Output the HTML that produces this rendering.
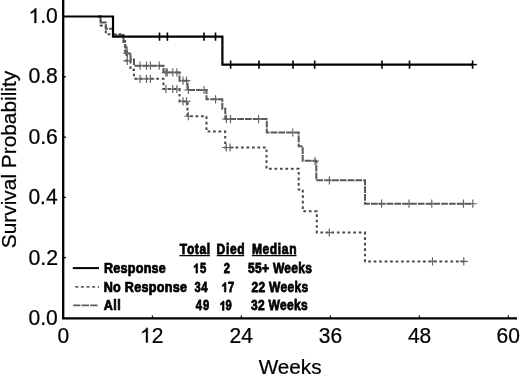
<!DOCTYPE html>
<html><head><meta charset="utf-8"><style>
html,body{margin:0;padding:0;background:#fff;width:520px;height:376px;overflow:hidden}
svg{display:block;will-change:transform}
text{font-family:"Liberation Sans",sans-serif;fill:#000}
.b{stroke:#000;stroke-width:0.75px}
text{stroke:#000;stroke-width:0.25px}
</style></head><body>
<svg width="520" height="376" viewBox="0 0 520 376">
<path d="M63.2 0 V319.5 M62 318.3 H517" stroke="#000" stroke-width="2.3" fill="none"/>
<path d=" M63 257.7 H66 M63 197.4 H66 M63 137.1 H66 M63 76.8 H66 M63 16.5 H66 M152.4 318 V315.5 M241.4 318 V315.5 M330.4 318 V315.5 M419.4 318 V315.5 M508.4 318 V315.5" stroke="#000" stroke-width="1.2" fill="none"/>
<path d="M98 16.5 H100.6 V25.4 H105.8 V34.2 H123.5 V43.1 H125.2 V52 H126.6 V60.8 H130.5 V69.7 H134 V78.8 H163.5 V89 H179.5 V101.4 H187.5 V116.2 H206.5 V131.6 H225.2 V147.5 H266.5 V168.8 H298.7 V189.6 H302.8 V211.2 H316.8 V232.5 H365 V261.4 H463.8" stroke="#474747" stroke-width="2" fill="none" stroke-dasharray="2.7 2.78"/>
<path d="M98 16.5 H100.6 V22.6 H105.8 V28.8 H113 V35 H123.5 V41.1 H125.2 V47.3 H126.6 V53.4 H130.5 V59.6 H134 V65.7 H163.5 V72.4 H179.5 V80.7 H187.5 V90 H206.5 V99.3 H222.3 V108.8 H225.3 V119.1 H266.8 V132.5 H298.7 V146.3 H302.7 V160.8 H316.3 V180.3 H365 V203.7 H472.8" stroke="#585858" stroke-width="2" fill="none" stroke-dasharray="6.7 1.1"/>
<path d="M127.3 56.7 V64.9 M123.3 60.8 H131.3 M140.1 74.7 V82.9 M136.1 78.8 H144.1 M146.5 74.7 V82.9 M142.5 78.8 H150.5 M150.4 74.7 V82.9 M146.4 78.8 H154.4 M165.9 84.9 V93.1 M161.9 89 H169.9 M172.8 84.9 V93.1 M168.8 89 H176.8 M176.9 84.9 V93.1 M172.9 89 H180.9 M183 97.3 V105.5 M179.0 101.4 H187.0 M186.5 97.3 V105.5 M182.5 101.4 H190.5 M188.3 112.1 V120.3 M184.3 116.2 H192.3 M226.3 143.4 V151.6 M222.3 147.5 H230.3 M230 143.4 V151.6 M226.0 147.5 H234.0 M329.3 228.4 V236.6 M325.3 232.5 H333.3 M432.5 257.3 V265.5 M428.5 261.4 H436.5 M463.8 257.3 V265.5 M459.8 261.4 H467.8" stroke="#626262" stroke-width="1.15" fill="none"/>
<path d="M127.3 49.3 V57.5 M123.3 53.4 H131.3 M140.1 61.6 V69.8 M136.1 65.7 H144.1 M146.5 61.6 V69.8 M142.5 65.7 H150.5 M150.4 61.6 V69.8 M146.4 65.7 H154.4 M159.3 61.6 V69.8 M155.3 65.7 H163.3 M165.9 68.3 V76.5 M161.9 72.4 H169.9 M167.2 68.3 V76.5 M163.2 72.4 H171.2 M172.8 68.3 V76.5 M168.8 72.4 H176.8 M176.9 68.3 V76.5 M172.9 72.4 H180.9 M183 76.6 V84.8 M179.0 80.7 H187.0 M186.5 76.6 V84.8 M182.5 80.7 H190.5 M188.3 85.9 V94.1 M184.3 90 H192.3 M204 85.9 V94.1 M200.0 90 H208.0 M215.6 95.2 V103.4 M211.6 99.3 H219.6 M226.4 115.0 V123.2 M222.4 119.1 H230.4 M230.5 115.0 V123.2 M226.5 119.1 H234.5 M258.6 115.0 V123.2 M254.6 119.1 H262.6 M292.8 128.4 V136.6 M288.8 132.5 H296.8 M315 156.9 V165.1 M311.0 161 H319.0 M329.4 176.4 V184.6 M325.4 180.5 H333.4 M381.6 199.6 V207.8 M377.6 203.7 H385.6 M409 199.6 V207.8 M405.0 203.7 H413.0 M431.8 199.6 V207.8 M427.8 203.7 H435.8 M463.5 199.6 V207.8 M459.5 203.7 H467.5 M472.8 199.6 V207.8 M468.8 203.7 H476.8" stroke="#626262" stroke-width="1.15" fill="none"/>
<path d="M63 16.5 H113 V36.7 H222.4 V64.6 H473" stroke="#000" stroke-width="2.2" fill="none"/>
<path d="M159.5 32.6 V40.8 M159.5 36.7 H159.5 M167.4 32.6 V40.8 M167.4 36.7 H167.4 M204 32.6 V40.8 M204.0 36.7 H204.0 M215.5 32.6 V40.8 M215.5 36.7 H215.5 M230.6 60.5 V68.7 M230.6 64.6 H230.6 M259 60.5 V68.7 M259.0 64.6 H259.0 M293 60.5 V68.7 M293.0 64.6 H293.0 M314.7 60.5 V68.7 M314.7 64.6 H314.7 M382 60.5 V68.7 M382.0 64.6 H382.0 M409.5 60.5 V68.7 M409.5 64.6 H409.5 M472.6 60.5 V68.7 M472.6 64.6 H472.6" stroke="#000" stroke-width="1.6" fill="none"/>
<path d="M470 64.6 H476.8" stroke="#000" stroke-width="1.5" fill="none"/>
<g transform="scale(0.9593 1)"><text x="29.66" y="325.5" font-size="22">0.0</text></g>
<g transform="scale(0.9685 1)"><text x="29.37" y="265.0" font-size="22">0.2</text></g>
<g transform="scale(0.9521 1)"><text x="29.90" y="204.5" font-size="22">0.4</text></g>
<g transform="scale(0.9630 1)"><text x="29.55" y="144.0" font-size="22">0.6</text></g>
<g transform="scale(0.9630 1)"><text x="29.55" y="83.5" font-size="22">0.8</text></g>
<g transform="scale(0.9607 1)"><text x="29.58" y="23.0" font-size="22"> .0</text><path d="M763 0 H583 V1072 Q518 1013 412.5 955 Q307 898 223 869 V1031 Q374 1098 487 1192 Q600 1286 647 1375 H763Z" transform="translate(29.58 23.0) scale(0.01074 -0.01074)" fill="#000" stroke="#000" stroke-width="23.3"/></g>
<g transform="scale(0.9550 1)"><text x="60.25" y="342.6" font-size="22">0</text></g>
<g transform="scale(0.9550 1)"><text x="146.57" y="342.6" font-size="22"> 2</text><path d="M763 0 H583 V1072 Q518 1013 412.5 955 Q307 898 223 869 V1031 Q374 1098 487 1192 Q600 1286 647 1375 H763Z" transform="translate(146.57 342.6) scale(0.01074 -0.01074)" fill="#000" stroke="#000" stroke-width="23.3"/></g>
<g transform="scale(0.9550 1)"><text x="240.32" y="342.6" font-size="22">24</text></g>
<g transform="scale(0.9550 1)"><text x="333.81" y="342.6" font-size="22">36</text></g>
<g transform="scale(0.9550 1)"><text x="427.17" y="342.6" font-size="22">48</text></g>
<g transform="scale(0.9550 1)"><text x="520.01" y="342.6" font-size="22">60</text></g>
<g transform="scale(1.0090 1)"><text x="256.40" y="373.6" font-size="20.5">Weeks</text></g>
<g transform="translate(15.9 247.2) rotate(-90)"><g transform="scale(1.0079 1)"><text x="-0.93" y="0" font-size="20.7">Survival Probability</text></g></g>
<path d="M72.8 268.1 H99" stroke="#000" stroke-width="2" fill="none"/>
<path d="M75.3 286.9 H99" stroke="#606060" stroke-width="1.9" fill="none" stroke-dasharray="3 2.6"/>
<path d="M73.2 305.3 H98.6" stroke="#5c5c5c" stroke-width="1.8" fill="none" stroke-dasharray="7.3 1.2"/>
<g transform="scale(0.9000 1)"><text x="115.50" y="273" font-size="14" font-weight="bold" letter-spacing="0.280" class="b">Response</text></g>
<g transform="scale(0.9000 1)"><text x="115.17" y="291.8" font-size="14" font-weight="bold" letter-spacing="0.327" class="b">No Response</text></g>
<g transform="scale(0.9000 1)"><text x="115.43" y="310.5" font-size="14" font-weight="bold" letter-spacing="0.445" class="b">All</text></g>
<g transform="scale(0.8600 1)"><text x="209.13" y="254.4" font-size="14" font-weight="bold" letter-spacing="0.675" class="b">Total</text></g>
<g transform="scale(0.8600 1)"><text x="251.73" y="254.4" font-size="14" font-weight="bold" letter-spacing="0.825" class="b">Died</text></g>
<g transform="scale(0.8600 1)"><text x="292.89" y="254.4" font-size="14" font-weight="bold" letter-spacing="0.734" class="b">Median</text></g>
<g transform="scale(0.8000 1)"><text x="241.38" y="273.1" font-size="14" font-weight="bold" letter-spacing="0.845" class="b"> 5</text><path d="M806 0 H525 V998 Q371 863 162 798 V1038 Q272 1072 401 1165 Q530 1258 578 1375 H806Z" transform="translate(241.38 273.1) scale(0.00684 -0.00684)" fill="#000" stroke="#000" stroke-width="109.7"/></g>
<g transform="scale(0.8000 1)"><text x="279.63" y="273.1" font-size="14" font-weight="bold" letter-spacing="0.000" class="b">2</text></g>
<g transform="scale(0.8600 1)"><text x="288.38" y="273" font-size="14" font-weight="bold" letter-spacing="0.334" class="b">55+ Weeks</text></g>
<g transform="scale(0.8000 1)"><text x="243.19" y="292" font-size="14" font-weight="bold" letter-spacing="0.470" class="b">34</text></g>
<g transform="scale(0.8000 1)"><text x="276.87" y="292" font-size="14" font-weight="bold" letter-spacing="0.430" class="b"> 7</text><path d="M806 0 H525 V998 Q371 863 162 798 V1038 Q272 1072 401 1165 Q530 1258 578 1375 H806Z" transform="translate(276.87 292) scale(0.00684 -0.00684)" fill="#000" stroke="#000" stroke-width="109.7"/></g>
<g transform="scale(0.8600 1)"><text x="292.42" y="292" font-size="14" font-weight="bold" letter-spacing="0.356" class="b">22 Weeks</text></g>
<g transform="scale(0.8000 1)"><text x="244.54" y="310.5" font-size="14" font-weight="bold" letter-spacing="1.410" class="b">49</text></g>
<g transform="scale(0.8000 1)"><text x="274.50" y="310.5" font-size="14" font-weight="bold" letter-spacing="-0.300" class="b"> 9</text><path d="M806 0 H525 V998 Q371 863 162 798 V1038 Q272 1072 401 1165 Q530 1258 578 1375 H806Z" transform="translate(274.50 310.5) scale(0.00684 -0.00684)" fill="#000" stroke="#000" stroke-width="109.7"/></g>
<g transform="scale(0.8600 1)"><text x="291.78" y="310.5" font-size="14" font-weight="bold" letter-spacing="0.364" class="b">32 Weeks</text></g>
<path d="M179.4 255.6 H210 M216.8 255.6 H244.2 M251.9 255.6 H296.5" stroke="#000" stroke-width="1.2" fill="none"/>
</svg>
</body></html>
